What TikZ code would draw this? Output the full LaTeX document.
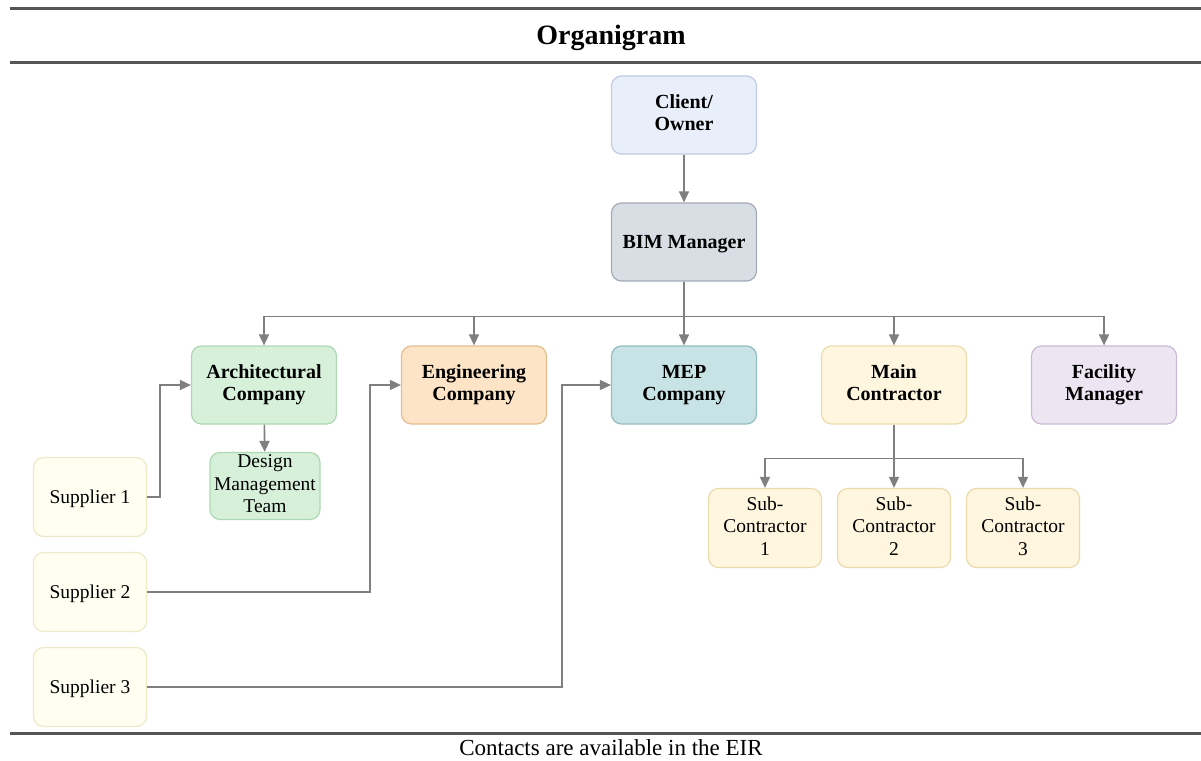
\documentclass[tikz,border=0pt]{standalone}
\usepackage{fontspec}
\setmainfont{Liberation Serif}
\usetikzlibrary{arrows.meta}

% box fills and borders
\definecolor{clientfill}{HTML}{E9EFFA}\definecolor{clientline}{HTML}{BFCBE0}
\definecolor{bimfill}{HTML}{D9DEE5}\definecolor{bimline}{HTML}{A3ABB5}
\definecolor{archfill}{HTML}{D6F0DA}\definecolor{archline}{HTML}{AED8B3}
\definecolor{engfill}{HTML}{FDE4C6}\definecolor{engline}{HTML}{E3BE90}
\definecolor{mepfill}{HTML}{C8E3E5}\definecolor{mepline}{HTML}{93BCBF}
\definecolor{mainfill}{HTML}{FEF6DE}\definecolor{mainline}{HTML}{E9DBAC}
\definecolor{fmfill}{HTML}{EDE6F2}\definecolor{fmline}{HTML}{CABAD5}
\definecolor{supfill}{HTML}{FEFEF1}\definecolor{supline}{HTML}{ECEACB}
\definecolor{rulegray}{HTML}{555555}
\definecolor{conngray}{HTML}{7F7F7F}

% line strut that keeps the capitals optically centred in a box
\newcommand{\boxstrut}{\rule[-4.5pt]{0pt}{22pt}}

\tikzset{
  box/.style={draw, line width=1.2pt, rounded corners=10pt, align=center,
    inner sep=0pt, minimum width=145pt, minimum height=78pt,
    execute at begin node={\boxstrut}, execute at end node={\boxstrut}},
  bigbox/.style={box, font=\fontsize{20}{22}\selectfont\bfseries},
  smallbox/.style={box, font=\fontsize{19.5}{22.5}\selectfont,
    minimum width=113pt, minimum height=79pt},
  conn/.style={draw=conngray, line width=1.6pt,
    -{Triangle[length=11pt,width=10pt,fill=conngray]}},
  hrule/.style={draw=rulegray, line width=3pt}
}

\begin{document}
\begin{tikzpicture}[x=1pt, y=-1pt]
\useasboundingbox (0,0) rectangle (1201,760);

% header and footer rules
\coordinate (r1a) at (10,9);   \coordinate (r1b) at (1201,9);
\coordinate (r2a) at (10,63);  \coordinate (r2b) at (1201,63);
\coordinate (r3a) at (10,733); \coordinate (r3b) at (1201,733);
\draw[hrule] (r1a) -- (r1b);
\draw[hrule] (r2a) -- (r2b);
\draw[hrule] (r3a) -- (r3b);

\node[font=\fontsize{28}{32}\selectfont\bfseries] (title) at (611,38) {Organigram};
\node[font=\fontsize{23}{26}\selectfont] (footer) at (611,748) {Contacts are available in the EIR};

% top of the hierarchy
\node[bigbox, fill=clientfill, draw=clientline] (client) at (684,115) {Client/\\Owner};
\node[bigbox, fill=bimfill, draw=bimline] (bim) at (684,242) {BIM Manager};

% companies
\node[bigbox, fill=archfill, draw=archline] (arch) at (264,385) {Architectural\\Company};
\node[bigbox, fill=engfill, draw=engline] (eng) at (474,385) {Engineering\\Company};
\node[bigbox, fill=mepfill, draw=mepline] (mep) at (684,385) {MEP\\Company};
\node[bigbox, fill=mainfill, draw=mainline] (main) at (894,385) {Main\\Contractor};
\node[bigbox, fill=fmfill, draw=fmline] (fm) at (1104,385) {Facility\\Manager};

% design team
\node[smallbox, fill=archfill, draw=archline, minimum width=110pt, minimum height=67pt]
  (dmt) at (265,486) {Design\\Management\\Team};

% suppliers
\node[smallbox, fill=supfill, draw=supline] (sup1) at (90,497) {Supplier 1};
\node[smallbox, fill=supfill, draw=supline] (sup2) at (90,592) {Supplier 2};
\node[smallbox, fill=supfill, draw=supline] (sup3) at (90,687) {Supplier 3};

% sub-contractors
\node[smallbox, fill=mainfill, draw=mainline] (sub1) at (765,528) {Sub-\\Contractor\\1};
\node[smallbox, fill=mainfill, draw=mainline] (sub2) at (894,528) {Sub-\\Contractor\\2};
\node[smallbox, fill=mainfill, draw=mainline] (sub3) at (1023,528) {Sub-\\Contractor\\3};

% connectors
\draw[conn] (client) -- (bim);
\foreach \t in {arch, eng, mep, main, fm}
  \draw[conn] (bim.south) -- ++(0,35) -| (\t.north);
\draw[conn] (arch) -- (dmt);
\draw[conn] (sup1.east) -- ++(13,0) |- (arch.west);
\draw[conn] (sup2.east) -- ++(223,0) |- (eng.west);
\draw[conn] (sup3.east) -- ++(415,0) |- (mep.west);
\foreach \t in {sub1, sub2, sub3}
  \draw[conn] (main.south) -- ++(0,34) -| (\t.north);
\end{tikzpicture}
\end{document}
